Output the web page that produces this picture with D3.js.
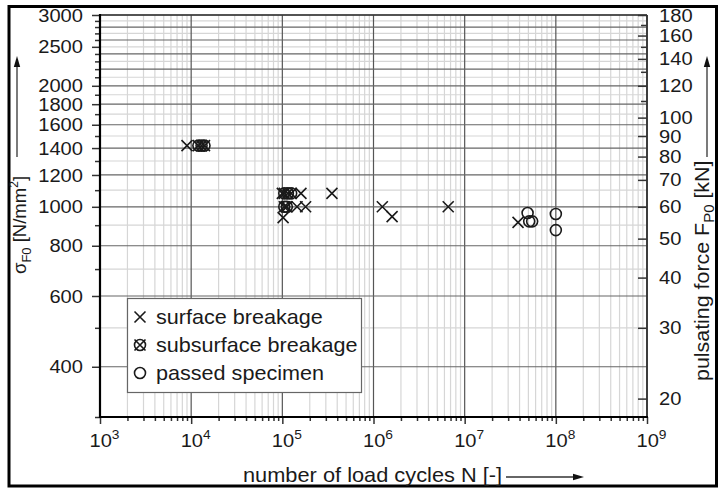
<!DOCTYPE html>
<html>
<head>
<meta charset="utf-8">
<script src="https://cdn.jsdelivr.net/npm/d3@7"></script>
<style>
  html, body { margin: 0; padding: 0; background: #fff; }
  svg { display: block; }
  text { font-family: "Liberation Sans", Arial, Helvetica, sans-serif; fill: #1a1a1a; }
</style>
</head>
<body>
<svg id="chart" width="725" height="490"></svg>
<script>
// Fatigue test results: stress amplitude vs. number of load cycles (log-log)

// surface breakage (x)
const surfaceN = [9.0e3, 1.0e5, 1.6e5, 3.5e5, 1.02e5, 1.1e5, 1.45e5, 1.8e5, 1.25e6, 1.6e6, 6.6e6, 3.85e7];
const surfaceS = [1420, 1080, 1080, 1080, 940, 1000, 1000, 1000, 1000, 945, 1000, 915];

// subsurface breakage (circle + x)
const subsurfaceN = [1.2e4, 1.3e4, 1.4e4, 1.05e5, 1.15e5, 1.25e5, 1.05e5, 1.12e5];
const subsurfaceS = [1420, 1420, 1420, 1080, 1080, 1080, 1000, 1000];

// passed specimens (circle)
const passedN = [4.9e7, 5.1e7, 5.5e7, 1.0e8, 1.0e8];
const passedS = [965, 920, 920, 960, 875];

// axis ticks
const xDecades = [1e3, 1e4, 1e5, 1e6, 1e7, 1e8, 1e9];
const xMinor = [];
[1e3, 1e4, 1e5, 1e6, 1e7, 1e8].forEach(d => { for (let k = 2; k <= 9; k++) xMinor.push(k * d); });

const yLabelTicks = [400, 600, 800, 1000, 1200, 1400, 1600, 1800, 2000, 2500, 3000];
const yMajorGrid = [400, 600, 800, 1000, 1200, 1400, 1600, 1800, 2000, 2200, 2400, 2600, 2800, 3000];
const yMinorGrid = [500, 700, 900, 1100, 1300, 1500, 1700, 1900, 2100, 2300, 2500, 2700, 2900];
const yMinorTicks = [300, 500, 700, 900, 1100, 1300, 1500, 1700, 1900, 2100, 2200, 2300, 2400, 2600, 2700, 2800, 2900];

const rLabelTicks = [20, 30, 40, 50, 60, 70, 80, 90, 100, 120, 140, 160, 180];
const rMinorTicks = [110, 130, 150, 170];

const legendItems = ["surface breakage", "subsurface breakage", "passed specimen"];

// layout
const L = 100, R = 647, T = 15, B = 417;
const svg = d3.select("#chart");
const ink = "#1a1a1a";

const x = d3.scaleLog().domain([1e3, 1e9]).range([L, R]);
const y = d3.scaleLog().domain([300, 3000]).range([B, T]);
const yR = d3.scaleLog().domain([18, 180]).range([B, T]);

// widen glyphs horizontally around each text's anchor point
function stretch(sel, k) {
  sel.each(function () {
    const t = d3.select(this);
    const ax = +t.attr("x") || 0;
    const prev = t.attr("transform") || "";
    t.attr("transform", `${prev} translate(${ax},0) scale(${k},1) translate(${-ax},0)`);
  });
}

// outer frame
svg.append("rect").attr("x", 9).attr("y", 6.5).attr("width", 707.5).attr("height", 479.5)
  .attr("fill", "none").attr("stroke", "#000").attr("stroke-width", 3);

// grid
const grid = svg.append("g");
grid.selectAll(".vmin").data(xMinor).join("line")
  .attr("x1", d => x(d)).attr("x2", d => x(d)).attr("y1", T).attr("y2", B)
  .attr("stroke", "#d6d6d6").attr("stroke-width", 1.2);
grid.selectAll(".hmin").data(yMinorGrid).join("line")
  .attr("x1", L).attr("x2", R).attr("y1", d => y(d)).attr("y2", d => y(d))
  .attr("stroke", "#d6d6d6").attr("stroke-width", 1.2);
grid.selectAll(".vmaj").data(xDecades).join("line")
  .attr("x1", d => x(d)).attr("x2", d => x(d)).attr("y1", T).attr("y2", B)
  .attr("stroke", "#555").attr("stroke-width", 1.2);
grid.selectAll(".hmaj").data(yMajorGrid).join("line")
  .attr("x1", L).attr("x2", R).attr("y1", d => y(d)).attr("y2", d => y(d))
  .attr("stroke", "#666").attr("stroke-width", 1.2);

// axes
function styleAxis(g, width) {
  g.select(".domain").remove();
  g.selectAll(".tick line").attr("stroke", "#333").attr("stroke-width", width);
  g.selectAll(".tick text").attr("fill", ink).style("font-size", "19px")
    .style("font-family", '"Liberation Sans", Arial, sans-serif');
}

// left axis
svg.append("g").attr("transform", `translate(${L},0)`)
  .call(d3.axisLeft(y).tickValues(yMinorTicks).tickSize(5).tickFormat(""))
  .call(g => styleAxis(g, 1.5));
svg.append("g").attr("transform", `translate(${L},0)`)
  .call(d3.axisLeft(y).tickValues(yLabelTicks).tickSize(8).tickPadding(9).tickFormat(d3.format("d")))
  .call(g => styleAxis(g, 1.5))
  .call(g => stretch(g.selectAll(".tick text"), 1.06));

// right axis (ticks point inward)
svg.append("g").attr("transform", `translate(${R},0)`)
  .call(d3.axisRight(yR).tickValues(rMinorTicks).tickSize(-6).tickFormat(""))
  .call(g => styleAxis(g, 1.5));
svg.append("g").attr("transform", `translate(${R},0)`)
  .call(d3.axisRight(yR).tickValues(rLabelTicks).tickSize(-9).tickPadding(12).tickFormat(d3.format("d")))
  .call(g => styleAxis(g, 1.5))
  .call(g => stretch(g.selectAll(".tick text"), 1.06));

// bottom axis
svg.append("g").attr("transform", `translate(0,${B})`)
  .call(d3.axisBottom(x).tickValues(xMinor).tickSize(4).tickFormat(""))
  .call(g => styleAxis(g, 1.5));
const xAx = svg.append("g").attr("transform", `translate(0,${B})`)
  .call(d3.axisBottom(x).tickValues(xDecades).tickSize(7).tickFormat(""))
  .call(g => styleAxis(g, 1.5));
xAx.selectAll(".tick").append("text")
  .attr("x", 4).attr("y", 30).attr("text-anchor", "middle")
  .style("font-size", "19px").attr("fill", ink)
  .each(function (d) {
    const t = d3.select(this);
    t.append("tspan").text("10");
    t.append("tspan").attr("dy", -8).style("font-size", "13px").text(Math.round(Math.log10(d)));
  })
  .call(sel => stretch(sel, 1.06));

// plot frame
svg.append("line").attr("x1", L).attr("x2", R).attr("y1", T).attr("y2", T).attr("stroke", "#333").attr("stroke-width", 1.5);
svg.append("line").attr("x1", R).attr("x2", R).attr("y1", T).attr("y2", B).attr("stroke", "#333").attr("stroke-width", 1.8);
svg.append("line").attr("x1", L).attr("x2", L).attr("y1", T - 1).attr("y2", B + 1).attr("stroke", "#000").attr("stroke-width", 2.2);
svg.append("line").attr("x1", L - 1).attr("x2", R + 1).attr("y1", B).attr("y2", B).attr("stroke", "#000").attr("stroke-width", 2.2);

// markers
const s = 5.5;
function cross(g) {
  g.append("path").attr("d", `M${-s},${-s}L${s},${s}M${-s},${s}L${s},${-s}`)
    .attr("stroke", ink).attr("stroke-width", 1.6).attr("fill", "none");
}
function ring(g) {
  g.append("circle").attr("r", s).attr("fill", "none").attr("stroke", ink).attr("stroke-width", 1.6);
}

const surface = surfaceN.map((n, i) => ({ n, s: surfaceS[i] }));
const subsurface = subsurfaceN.map((n, i) => ({ n, s: subsurfaceS[i] }));
const passed = passedN.map((n, i) => ({ n, s: passedS[i] }));

const marks = svg.append("g");
marks.selectAll(".sf").data(surface).join("g")
  .attr("transform", d => `translate(${x(d.n)},${y(d.s)})`).each(function () { cross(d3.select(this)); });
marks.selectAll(".ss").data(subsurface).join("g")
  .attr("transform", d => `translate(${x(d.n)},${y(d.s)})`).each(function () { const g = d3.select(this); ring(g); cross(g); });
marks.selectAll(".ps").data(passed).join("g")
  .attr("transform", d => `translate(${x(d.n)},${y(d.s)})`).each(function () { ring(d3.select(this)); });

// legend
const lg = svg.append("g");
lg.append("rect").attr("x", 127.5).attr("y", 298.5).attr("width", 234).attr("height", 94)
  .attr("fill", "#fff").attr("stroke", "#666").attr("stroke-width", 1.2);
const drawers = [g => cross(g), g => { ring(g); cross(g); }, g => ring(g)];
legendItems.forEach((label, i) => {
  const cy = 317 + i * 28;
  const g = lg.append("g").attr("transform", `translate(140,${cy})`);
  drawers[i](g);
  lg.append("text").attr("x", 156).attr("y", cy + 7).style("font-size", "20px").text(label)
    .call(sel => stretch(sel, 1.08));
});

// arrow helper
function arrow(x1, y1, x2, y2) {
  const a = Math.atan2(y2 - y1, x2 - x1);
  const len = 11, w = 3.2;
  svg.append("line").attr("x1", x1).attr("y1", y1)
    .attr("x2", x2 - Math.cos(a) * len * 0.8).attr("y2", y2 - Math.sin(a) * len * 0.8)
    .attr("stroke", "#333").attr("stroke-width", 1.3);
  const bx = x2 - Math.cos(a) * len, by = y2 - Math.sin(a) * len;
  svg.append("path").attr("d",
    `M${x2},${y2}L${bx - Math.sin(a) * w},${by + Math.cos(a) * w}L${bx + Math.sin(a) * w},${by - Math.cos(a) * w}Z`)
    .attr("fill", "#111");
}

// left title
const lt = svg.append("text").attr("transform", "translate(26,274) rotate(-90)")
  .style("font-size", "18.5px");
lt.append("tspan").text("σ");
lt.append("tspan").attr("dy", 5).style("font-size", "13px").text("F0");
lt.append("tspan").attr("dy", -5).text(" [N/mm");
lt.append("tspan").attr("dy", -8).style("font-size", "12px").text("2");
lt.append("tspan").attr("dy", 8).text("]");
arrow(17, 157, 17, 56);

// right title
const rt = svg.append("text").attr("transform", "translate(709,381) rotate(-90)")
  .style("font-size", "20px");
rt.append("tspan").text("pulsating force F");
rt.append("tspan").attr("dy", 5).style("font-size", "14px").text("P0");
rt.append("tspan").attr("dy", -5).text(" [kN]");
stretch(rt, 1.07);
arrow(707, 157, 707, 56);

// bottom title
svg.append("text").attr("x", 243).attr("y", 482).style("font-size", "20px")
  .text("number of load cycles N [-]")
  .call(sel => stretch(sel, 1.09));
arrow(506, 477, 584, 477);
</script>
</body>
</html>
